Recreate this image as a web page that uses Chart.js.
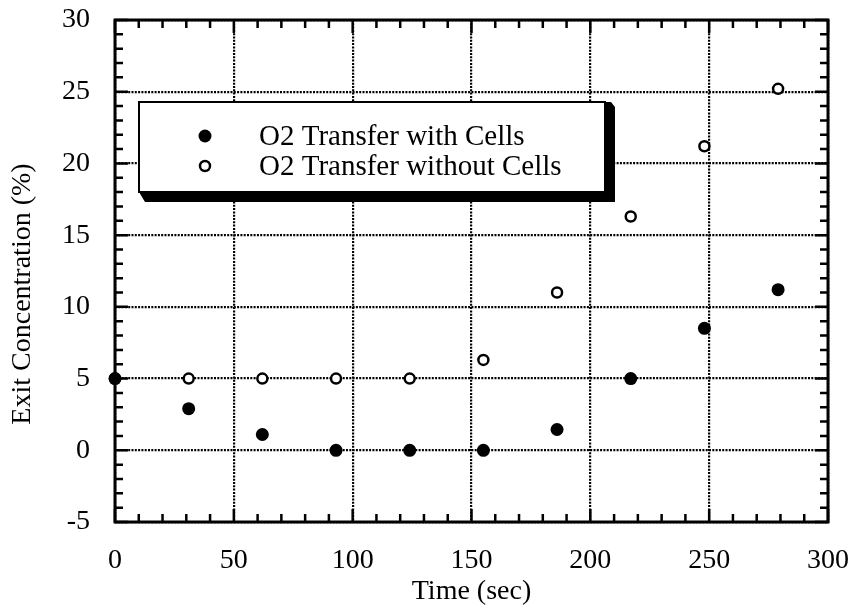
<!DOCTYPE html>
<html>
<head>
<meta charset="utf-8">
<script src="https://cdn.jsdelivr.net/npm/chart.js@4/dist/chart.umd.min.js"></script>
<style>
  html, body { margin: 0; padding: 0; background: #fff; }
  #wrap { width: 854px; height: 610px; position: relative; }
</style>
</head>
<body>
<div id="wrap"><canvas id="o2Chart"></canvas></div>
<script>
// Sampling times (sec) and exit O2 concentration (%)
const timeSec = [0, 31, 62, 93, 124, 155, 186, 217, 248, 279];
const withCells = [5, 2.9, 1.1, 0, 0, 0, 1.45, 5, 8.5, 11.2];
const withoutCells = [5, 5, 5, 5, 5, 6.3, 11.0, 16.3, 21.2, 25.2];
const seriesLabels = ['O2 Transfer with Cells', 'O2 Transfer without Cells'];
const xTicks = [0, 50, 100, 150, 200, 250, 300];
const yTicks = [-5, 0, 5, 10, 15, 20, 25, 30];

const FONT = '"Liberation Serif", "Times New Roman", serif';

const toPoints = (xs, ys) => xs.map((x, i) => ({ x, y: ys[i] }));

// Frame, inward tick marks on all four sides, y title and boxed legend
const framePlugin = {
    id: 'frame',
    afterDraw(chart) {
        const { ctx, chartArea: a, scales: { x, y } } = chart;
        ctx.save();
        ctx.strokeStyle = '#000';
        ctx.lineWidth = 2.5;

        for (let v = 0; v <= 300; v += 10) {
            const px = x.getPixelForValue(v);
            const len = v % 50 === 0 ? 13 : 8;
            ctx.beginPath();
            ctx.moveTo(px, a.bottom); ctx.lineTo(px, a.bottom - len);
            ctx.moveTo(px, a.top); ctx.lineTo(px, a.top + len);
            ctx.stroke();
        }
        for (let v = -5; v <= 30; v += 1) {
            const py = y.getPixelForValue(v);
            const len = v % 5 === 0 ? 13 : 8;
            ctx.beginPath();
            ctx.moveTo(a.left, py); ctx.lineTo(a.left + len, py);
            ctx.moveTo(a.right, py); ctx.lineTo(a.right - len, py);
            ctx.stroke();
        }

        ctx.lineWidth = 3;
        ctx.strokeRect(a.left, a.top, a.right - a.left, a.bottom - a.top);

        // y axis title
        ctx.save();
        ctx.translate(23, 294);
        ctx.rotate(-Math.PI / 2);
        ctx.fillStyle = '#000';
        ctx.font = '28px ' + FONT;
        ctx.textAlign = 'center';
        ctx.textBaseline = 'middle';
        ctx.fillText('Exit Concentration (%)', 0, 0);
        ctx.restore();

        // legend box with drop shadow
        const bx = 139, by = 102, bw = 466, bh = 90, sh = 10;
        ctx.fillStyle = '#000';
        ctx.beginPath();
        ctx.moveTo(bx, by + bh);
        ctx.lineTo(bx + bw, by + bh);
        ctx.lineTo(bx + bw, by);
        ctx.lineTo(bx + bw + sh - 4, by);
        ctx.lineTo(bx + bw + sh, by + 5);
        ctx.lineTo(bx + bw + sh, by + bh + sh);
        ctx.lineTo(bx + 6, by + bh + sh);
        ctx.closePath();
        ctx.fill();
        ctx.fillStyle = '#fff';
        ctx.fillRect(bx, by, bw, bh);
        ctx.lineWidth = 2;
        ctx.strokeRect(bx, by, bw, bh);

        const rows = [136, 166];
        chart.data.datasets.forEach((ds, i) => {
            ctx.beginPath();
            ctx.arc(205, rows[i], ds.pointRadius, 0, Math.PI * 2);
            ctx.fillStyle = ds.pointBackgroundColor;
            ctx.fill();
            if (ds.pointBorderWidth) {
                ctx.lineWidth = ds.pointBorderWidth;
                ctx.strokeStyle = ds.pointBorderColor;
                ctx.stroke();
            }
            ctx.fillStyle = '#000';
            ctx.font = '29px ' + FONT;
            ctx.textAlign = 'left';
            ctx.textBaseline = 'middle';
            ctx.fillText(ds.label, 259, rows[i] + 1);
        });
        ctx.restore();
    }
};

new Chart(document.getElementById('o2Chart'), {
    type: 'scatter',
    data: {
        datasets: [
            {
                label: seriesLabels[0],
                data: toPoints(timeSec, withCells),
                clip: false,
                pointRadius: 6.5,
                pointBackgroundColor: '#000',
                pointBorderColor: '#000',
                pointBorderWidth: 0
            },
            {
                label: seriesLabels[1],
                data: toPoints(timeSec, withoutCells),
                clip: false,
                pointRadius: 5,
                pointBackgroundColor: '#fff',
                pointBorderColor: '#000',
                pointBorderWidth: 2.5
            }
        ]
    },
    options: {
        responsive: true,
        maintainAspectRatio: false,
        animation: false,
        layout: { padding: { left: 0, top: 20, right: 26, bottom: 0 } },
        plugins: {
            legend: { display: false },
            tooltip: { enabled: false }
        },
        scales: {
            x: {
                type: 'linear',
                min: 0,
                max: 300,
                afterBuildTicks: s => { s.ticks = xTicks.map(v => ({ value: v })); },
                afterFit: s => {
                    s.height = 88;
                    s.paddingLeft = 0;
                    s.paddingRight = 0;
                },
                grid: { color: '#000', lineWidth: 2.2, drawTicks: false },
                border: { display: false, dash: [2, 1.3] },
                ticks: { color: '#000', padding: 22, maxRotation: 0, font: { family: FONT, size: 28 } },
                title: {
                    display: true,
                    text: 'Time (sec)',
                    color: '#000',
                    font: { family: FONT, size: 28 },
                    padding: { top: 0, bottom: 2 }
                }
            },
            y: {
                type: 'linear',
                min: -5,
                max: 30,
                afterBuildTicks: s => { s.ticks = yTicks.map(v => ({ value: v })); },
                afterFit: s => {
                    s.width = 115;
                    s.paddingTop = 0;
                    s.paddingBottom = 0;
                },
                grid: { color: '#000', lineWidth: 2.2, drawTicks: false },
                border: { display: false, dash: [2, 1.3] },
                ticks: { color: '#000', padding: 25, font: { family: FONT, size: 28 } }
            }
        }
    },
    plugins: [framePlugin]
});
</script>
</body>
</html>
